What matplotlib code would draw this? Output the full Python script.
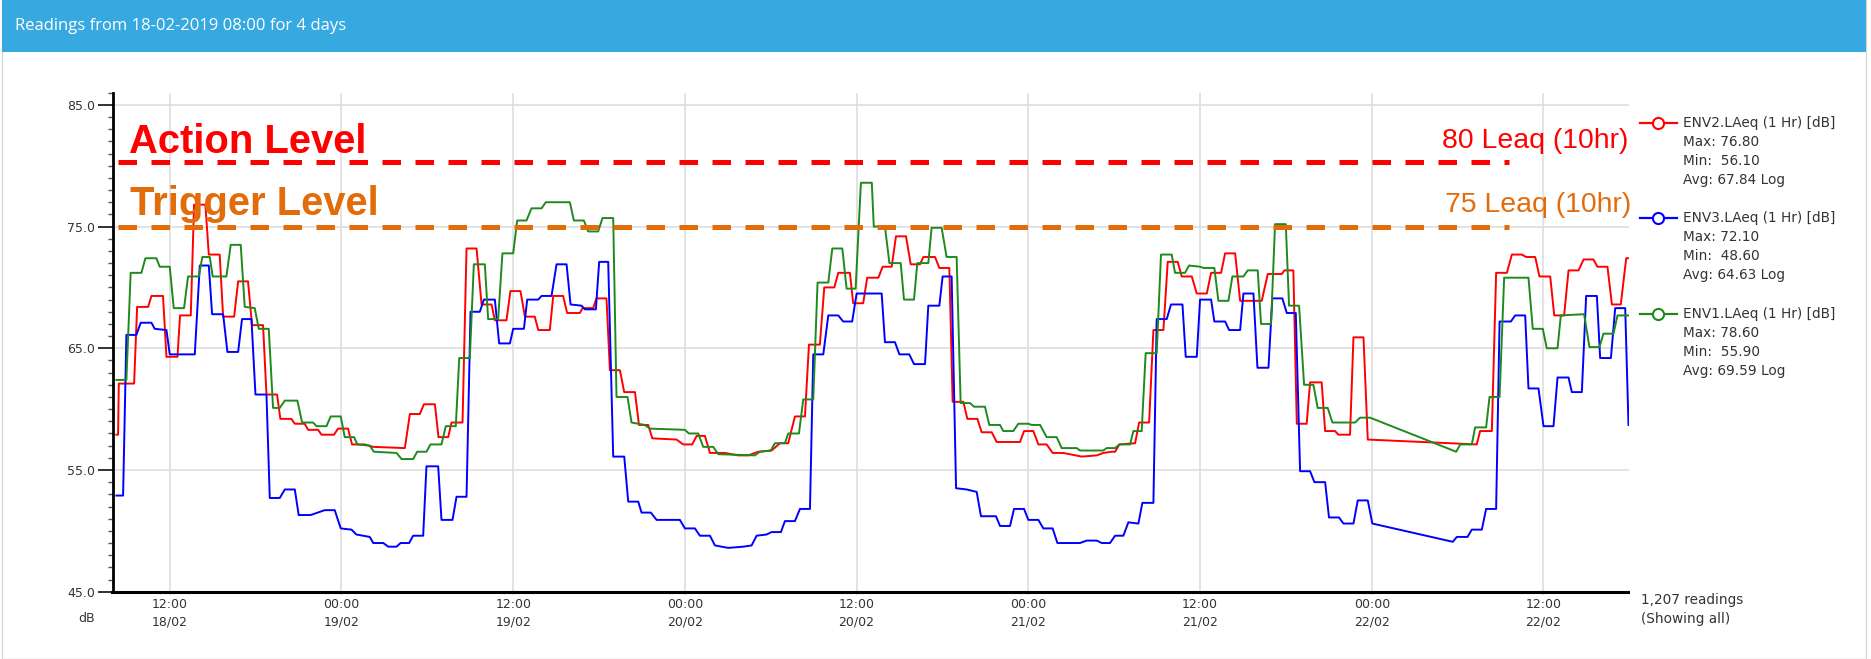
import matplotlib
matplotlib.use("Agg")
import matplotlib.pyplot as plt
from matplotlib.patches import Rectangle
from matplotlib.lines import Line2D
from matplotlib.ticker import MultipleLocator, FormatStrFormatter
import pandas as pd

# readings start 18-02-2019 08:00, times below are hours after that
start = pd.Timestamp("2019-02-18 08:00")
end_hours = 105.94

env2_hours = [0.27, 0.39, 0.44, 1.51, 1.72, 2.49, 2.72, 3.53, 3.77, 4.54, 4.72, 5.47, 5.70, 6.49, 6.73, 7.49,
              7.73, 8.50, 8.78, 9.47, 9.75, 10.52, 10.76, 11.50, 11.73, 12.50, 12.74, 13.43, 13.67, 14.37,
              14.60, 15.48, 15.76, 16.46, 16.74, 17.63, 18.22, 20.43, 20.78, 21.48, 21.76, 22.53, 22.78,
              23.46, 23.69, 24.46, 24.74, 25.44, 25.79, 26.49, 26.72, 27.53, 27.81, 28.51, 28.82, 29.51,
              29.75, 30.56, 30.80, 31.49, 31.77, 32.66, 32.85, 33.59, 33.82, 34.52, 34.76, 35.46, 35.76,
              36.51, 36.79, 37.44, 37.72, 39.42, 39.88, 40.51, 40.82, 41.40, 41.75, 42.80, 43.73, 44.43,
              45.12, 46.06, 46.64, 47.22, 47.69, 48.39, 48.67, 49.43, 49.74, 50.44, 50.72, 51.53, 51.76,
              52.46, 52.74, 53.52, 53.82, 54.45, 54.75, 55.45, 55.78, 56.43, 56.66, 57.48, 57.78, 58.48,
              58.71, 59.46, 59.74, 60.44, 60.74, 61.44, 61.79, 63.42, 63.70, 64.35, 64.70, 65.28, 65.70,
              66.45, 67.73, 68.78, 69.24, 69.82, 70.06, 70.36, 71.46, 71.74, 72.44, 72.74, 73.44, 73.74,
              74.44, 74.72, 75.42, 75.77, 76.47, 76.77, 77.47, 77.75, 78.45, 78.80, 80.31, 80.73, 81.71,
              81.89, 82.52, 82.76, 83.45, 83.69, 84.50, 84.74, 85.43, 85.67, 86.48, 86.72, 87.42, 87.72,
              95.34, 95.57, 96.39, 96.69, 97.44, 97.79, 98.49, 98.79, 99.42, 99.72, 100.47, 100.75, 101.44,
              101.75, 102.45, 102.80, 103.49, 103.77, 104.47, 104.78, 105.40, 105.78, 105.94]
env2_db = [57.9, 57.9, 62.1, 62.1, 68.4, 68.4, 69.3, 69.3, 64.3, 64.3, 67.7, 67.7, 76.8, 76.8, 72.7, 72.7,
           67.6, 67.6, 70.5, 70.5, 66.9, 66.9, 61.2, 61.2, 59.2, 59.2, 58.8, 58.8, 58.3, 58.3,
           57.9, 57.9, 58.4, 58.4, 57.1, 57.1, 56.9, 56.8, 59.6, 59.6, 60.4, 60.4, 57.7,
           57.7, 58.9, 58.9, 73.2, 73.2, 68.6, 68.6, 67.3, 67.3, 69.7, 69.7, 67.6, 67.6,
           66.5, 66.5, 69.3, 69.3, 67.9, 67.9, 68.3, 68.3, 69.1, 69.1, 63.2, 63.2, 61.4,
           61.4, 58.7, 58.7, 57.6, 57.5, 57.1, 57.1, 57.8, 57.8, 56.4, 56.4, 56.2, 56.2,
           56.5, 56.6, 57.2, 57.2, 59.4, 59.4, 65.3, 65.3, 70.0, 70.0, 71.2, 71.2, 68.7,
           68.7, 70.8, 70.8, 71.7, 71.7, 74.2, 74.2, 71.9, 71.9, 72.5, 72.5, 71.6, 71.6,
           60.6, 60.6, 59.2, 59.2, 58.1, 58.1, 57.3, 57.3, 58.2, 58.2, 57.1, 57.1, 56.4,
           56.4, 56.1, 56.2, 56.4, 56.5, 56.5, 57.1, 57.2, 58.9, 58.9, 66.5, 66.5, 72.1,
           72.1, 70.9, 70.9, 69.5, 69.5, 71.2, 71.2, 72.8, 72.8, 68.9, 68.9, 71.1, 71.1,
           71.4, 71.4, 58.8, 58.8, 62.2, 62.2, 58.2, 58.2, 57.9, 57.9, 65.9, 65.9, 57.5,
           57.1, 58.2, 58.2, 71.2, 71.2, 72.7, 72.7, 72.5, 72.5, 70.9, 70.9, 67.7, 67.7,
           71.4, 71.4, 72.3, 72.3, 71.7, 71.7, 68.6, 68.6, 72.4, 72.4]

env3_hours = [0.27, 0.74, 0.97, 1.67, 1.97, 2.72, 2.95, 3.77, 4.00, 5.75, 6.10, 6.73, 6.96, 7.73, 8.03, 8.78,
              9.05, 9.71, 9.99, 10.76, 10.99, 11.69, 12.04, 12.74, 13.01, 13.85, 14.83, 15.53, 15.95, 16.70,
              17.04, 17.98, 18.22, 18.92, 19.27, 19.85, 20.13, 20.73, 21.01, 21.71, 21.94, 22.76, 22.99,
              23.76, 24.04, 24.74, 25.02, 25.67, 25.95, 26.72, 27.02, 27.77, 28.00, 28.75, 28.98, 29.75,
              29.98, 30.68, 31.03, 31.73, 32.01, 32.78, 33.01, 33.78, 34.01, 34.64, 34.99, 35.76, 36.04,
              36.74, 36.97, 37.62, 38.02, 39.65, 40.00, 40.70, 41.05, 41.75, 42.10, 43.03, 44.08, 44.66,
              45.01, 45.71, 46.06, 46.71, 46.99, 47.69, 48.04, 48.74, 48.97, 49.67, 50.02, 50.72, 51.06,
              51.69, 52.00, 53.75, 53.98, 54.68, 54.99, 55.68, 56.01, 56.78, 57.01, 57.78, 58.01, 58.64,
              58.95, 59.69, 60.39, 60.69, 61.74, 62.02, 62.72, 63.00, 63.70, 64.00, 64.70, 65.05, 65.70,
              66.03, 67.61, 68.08, 68.78, 69.13, 69.71, 70.06, 70.64, 70.99, 71.69, 71.97, 72.74, 72.97,
              73.67, 73.97, 74.77, 75.00, 75.77, 76.00, 76.77, 77.00, 77.75, 78.03, 78.80, 79.03, 79.73,
              80.01, 80.78, 81.05, 81.75, 82.06, 82.69, 82.99, 83.69, 83.99, 84.74, 85.01, 85.71, 86.02,
              86.72, 87.02, 87.72, 88.04, 93.66, 93.94, 94.69, 94.99, 95.69, 95.99, 96.69, 96.93, 97.72,
              98.02, 98.72, 98.95, 99.65, 100.00, 100.70, 100.98, 101.75, 101.98, 102.68, 102.98, 103.73,
              103.96, 104.71, 105.01, 105.71, 105.94]
env3_db = [52.9, 52.9, 66.1, 66.1, 67.1, 67.1, 66.6, 66.5, 64.5, 64.5, 71.8, 71.8, 67.8, 67.8, 64.7, 64.7,
           67.4, 67.4, 61.2, 61.2, 52.7, 52.7, 53.4, 53.4, 51.3, 51.3, 51.7, 51.7, 50.2, 50.1,
           49.7, 49.5, 49.0, 49.0, 48.7, 48.7, 49.0, 49.0, 49.6, 49.6, 55.3, 55.3, 50.9,
           50.9, 52.8, 52.8, 68.0, 68.0, 69.0, 69.0, 65.4, 65.4, 66.6, 66.6, 69.0, 69.0,
           69.3, 69.3, 71.9, 71.9, 68.6, 68.5, 68.2, 68.2, 72.1, 72.1, 56.1, 56.1, 52.4,
           52.4, 51.5, 51.5, 50.9, 50.9, 50.2, 50.2, 49.6, 49.6, 48.8, 48.6, 48.7, 48.8,
           49.6, 49.7, 49.9, 49.9, 50.8, 50.8, 51.8, 51.8, 64.5, 64.5, 67.7, 67.7, 67.2,
           67.2, 69.5, 69.5, 65.5, 65.5, 64.5, 64.5, 63.7, 63.7, 68.5, 68.5, 70.9, 70.9,
           53.5, 53.4, 53.2, 51.2, 51.2, 50.4, 50.4, 51.8, 51.8, 50.9, 50.9, 50.2, 50.2,
           49.0, 49.0, 49.2, 49.2, 49.0, 49.0, 49.6, 49.6, 50.7, 50.6, 52.3, 52.3, 67.4,
           67.4, 68.6, 68.6, 64.3, 64.3, 69.0, 69.0, 67.2, 67.2, 66.5, 66.5, 69.5, 69.5,
           63.4, 63.4, 69.1, 69.1, 67.9, 67.9, 54.9, 54.9, 54.0, 54.0, 51.1, 51.1, 50.6,
           50.6, 52.5, 52.5, 50.6, 49.1, 49.5, 49.5, 50.1, 50.1, 51.8, 51.8, 67.2, 67.2,
           67.7, 67.7, 61.7, 61.7, 58.6, 58.6, 62.6, 62.6, 61.4, 61.4, 69.3, 69.3,
           64.2, 64.2, 68.3, 68.3, 58.7]

env1_hours = [0.27, 0.97, 1.27, 2.02, 2.30, 3.07, 3.30, 4.00, 4.28, 5.00, 5.28, 6.03, 6.28, 6.80, 7.00, 7.96,
              8.26, 8.96, 9.24, 9.94, 10.22, 10.92, 11.22, 11.69, 12.04, 12.92, 13.25, 14.02, 14.25, 14.95,
              15.25, 15.95, 16.23, 16.88, 17.11, 17.98, 18.26, 19.85, 20.20, 21.01, 21.29, 21.94, 22.22,
              22.99, 23.29, 23.99, 24.23, 24.97, 25.25, 26.02, 26.25, 26.95, 27.25, 28.00, 28.28, 28.93,
              29.28, 29.98, 30.28, 31.96, 32.24, 32.94, 33.24, 33.94, 34.24, 34.99, 35.22, 35.99, 36.27,
              37.20, 37.55, 40.00, 40.28, 40.93, 41.28, 41.98, 42.33, 44.89, 45.24, 46.00, 46.29, 46.99,
              47.22, 47.97, 48.27, 48.97, 49.27, 50.02, 50.30, 51.00, 51.30, 51.93, 52.30, 53.06, 53.20,
              53.98, 54.29, 55.08, 55.31, 56.01, 56.24, 57.01, 57.24, 57.94, 58.29, 58.99, 59.27, 59.92,
              60.20, 60.97, 61.27, 62.02, 62.25, 62.95, 63.30, 64.00, 64.23, 64.82, 65.28, 65.98, 66.33,
              67.38, 67.61, 69.24, 69.47, 70.06, 70.36, 71.11, 71.34, 71.92, 72.20, 72.97, 73.27, 74.02,
              74.25, 74.95, 75.23, 76.00, 76.23, 77.00, 77.28, 77.98, 78.26, 79.03, 79.33, 80.03, 80.26,
              80.96, 81.24, 81.99, 82.22, 82.92, 83.27, 83.92, 84.22, 84.92, 85.25, 86.83, 87.18, 87.88,
              93.90, 94.18, 94.99, 95.22, 95.99, 96.23, 96.93, 97.25, 98.95, 99.25, 99.95, 100.23, 100.98,
              101.21, 102.84, 103.21, 103.91, 104.19, 104.89, 105.17, 105.94]
env1_db = [62.4, 62.4, 71.2, 71.2, 72.4, 72.4, 71.7, 71.7, 68.3, 68.3, 70.9, 70.9, 72.5, 72.5, 70.9, 70.9,
           73.5, 73.5, 68.4, 68.3, 66.6, 66.6, 60.1, 60.1, 60.7, 60.7, 58.9, 58.9, 58.6, 58.6,
           59.4, 59.4, 57.7, 57.7, 57.1, 57.0, 56.5, 56.4, 55.9, 55.9, 56.5, 56.5, 57.1,
           57.1, 58.6, 58.6, 64.2, 64.2, 71.9, 71.9, 67.4, 67.4, 72.8, 72.8, 75.5, 75.5,
           76.5, 76.5, 77.0, 77.0, 75.5, 75.5, 74.6, 74.6, 75.7, 75.7, 61.0, 61.0, 58.9,
           58.7, 58.4, 58.3, 58.0, 58.0, 56.9, 56.9, 56.3, 56.2, 56.5, 56.6, 57.2, 57.2,
           58.0, 58.0, 60.8, 60.8, 70.4, 70.4, 73.2, 73.2, 69.9, 69.9, 78.6, 78.6, 75.0,
           75.0, 72.0, 72.0, 69.0, 69.0, 72.0, 72.0, 74.9, 74.9, 72.5, 72.5, 60.5, 60.5,
           60.2, 60.2, 58.7, 58.7, 58.2, 58.2, 58.8, 58.8, 58.7, 58.7, 57.7, 57.7, 56.8,
           56.8, 56.6, 56.6, 56.8, 56.8, 57.1, 57.1, 58.2, 58.2, 64.6, 64.6, 72.7, 72.7,
           71.2, 71.2, 71.8, 71.7, 71.6, 71.6, 68.9, 68.9, 70.9, 70.9, 71.4, 71.4, 67.0,
           67.0, 75.2, 75.2, 68.5, 68.5, 62.0, 62.0, 60.1, 60.1, 58.9, 58.9, 59.3, 59.3,
           56.5, 57.1, 57.1, 58.5, 58.5, 61.0, 61.0, 70.8, 70.8, 66.6, 66.6, 65.0, 65.0,
           67.7, 67.8, 65.1, 65.1, 66.2, 66.2, 67.7, 67.7]

series_names = ["ENV2.LAeq (1 Hr) [dB]", "ENV3.LAeq (1 Hr) [dB]", "ENV1.LAeq (1 Hr) [dB]"]
series_max = [76.80, 72.10, 78.60]
series_min = [56.10, 48.60, 55.90]
series_avg = [67.84, 64.63, 69.59]
series_colors = ["#ff0000", "#0000ff", "#1e8a1e"]
reading_count = 1207

y_ticks = [45, 55, 65, 75, 85]
action_level = 80.3
trigger_level = 75.0
level_span = [0.37, 97.6]

W, H = 1871, 659


def to_time(hours):
    return start + pd.to_timedelta(hours, unit="h")


fig = plt.figure(figsize=(W / 100, H / 100), dpi=100)
fig.patch.set_facecolor("white")

# header bar + panel frame
fig.patches.append(Rectangle((2 / W, 0), 1864 / W, 1, transform=fig.transFigure,
                             facecolor="none", edgecolor="#d9d9d9", lw=1))
fig.patches.append(Rectangle((2 / W, 1 - 52 / H), 1864 / W, 52 / H, transform=fig.transFigure,
                             facecolor="#36a9e1", edgecolor="none"))
fig.text(15 / W, 1 - 26 / H, "Readings from 18-02-2019 08:00 for 4 days", color="white",
         fontsize=12, family="Open Sans", va="center", ha="left")

ax = fig.add_axes([112.5 / W, 67.3 / H, (1628.5 - 112.5) / W, (566.3 - 67.3) / H])

all_series = [(env2_hours, env2_db), (env3_hours, env3_db), (env1_hours, env1_db)]
for (hrs, vals), col in zip(all_series, series_colors):
    ax.plot(to_time(hrs), vals, color=col, lw=1.4, zorder=3)

# limit lines drawn on top
ax.plot(to_time(level_span), [action_level] * 2, color="#ff0000", lw=3.6,
        linestyle=(0, (3.7, 2.9)), zorder=5)
ax.plot(to_time(level_span), [trigger_level] * 2, color="#e36c0a", lw=3.6,
        linestyle=(0, (3.7, 2.9)), zorder=5)
ax.text(to_time(1.13), 81.06, "Action Level", color="#ff0000", fontsize=28.8, fontweight="bold",
        family="Liberation Sans", va="baseline", ha="left", zorder=6)
ax.text(to_time(1.2), 75.96, "Trigger Level", color="#e36c0a", fontsize=28.8, fontweight="bold",
        family="Liberation Sans", va="baseline", ha="left", zorder=6)
ax.text(to_time(105.9), 81.47, "80 Leaq (10hr)", color="#ff0000", fontsize=20.4,
        family="Liberation Sans", va="baseline", ha="right", zorder=6)
ax.text(to_time(106.15), 76.2, "75 Leaq (10hr)", color="#e36c0a", fontsize=20.4,
        family="Liberation Sans", va="baseline", ha="right", zorder=6)

ax.set_xlim(start, to_time(end_hours))
ax.set_ylim(45, 86)

tick_times = pd.date_range("2019-02-18 12:00", "2019-02-22 12:00", freq="12h")
ax.set_xticks(tick_times)
ax.set_xticklabels([t.strftime("%H:%M\n%d/%m") for t in tick_times], linespacing=1.45)
ax.set_yticks(y_ticks)
ax.yaxis.set_minor_locator(MultipleLocator(1))
ax.yaxis.set_major_formatter(FormatStrFormatter("%.1f"))

ax.grid(True, which="major", color="#dedede", lw=1.2, zorder=0)
for s in ["top", "right"]:
    ax.spines[s].set_visible(False)
ax.spines["left"].set_linewidth(2.0)
ax.spines["bottom"].set_linewidth(2.2)
ax.tick_params(axis="y", which="major", length=10.8, width=1.3, colors="#222222",
               labelsize=9, labelcolor="#333333", pad=1.5)
ax.tick_params(axis="y", which="minor", length=3.6, width=1.0, color="#555555")
ax.tick_params(axis="x", which="major", length=2.5, width=1.2, color="#dedede",
               labelsize=9, labelcolor="#333333", pad=2)

fig.text(87 / W, 1 - 619 / H, "dB", fontsize=9, color="#333333", ha="center", va="center")

# right-hand legend with stats
legend_y = [123, 218, 314]
for i in range(3):
    y = 1 - legend_y[i] / H
    fig.lines.append(Line2D([1640 / W, 1677 / W], [y, y], transform=fig.transFigure,
                            color=series_colors[i], lw=1.6))
    fig.lines.append(Line2D([1658 / W], [y], transform=fig.transFigure, marker="o",
                            markersize=8, markerfacecolor="white", markeredgewidth=1.5,
                            markeredgecolor=series_colors[i], linestyle="none"))
    rows = [series_names[i], f"Max: {series_max[i]:.2f}", f"Min:  {series_min[i]:.2f}",
            f"Avg: {series_avg[i]:.2f} Log"]
    for k, r in enumerate(rows):
        fig.text(1683 / W, 1 - (legend_y[i] + 19 * k) / H, r, fontsize=9.8, color="#333333",
                 ha="left", va="center")

fig.text(1641 / W, 1 - 600 / H, f"{reading_count:,} readings", fontsize=9.8, color="#333333",
         ha="left", va="center")
fig.text(1641 / W, 1 - 619 / H, "(Showing all)", fontsize=9.8, color="#333333",
         ha="left", va="center")

fig.savefig("out.png", dpi=100)
